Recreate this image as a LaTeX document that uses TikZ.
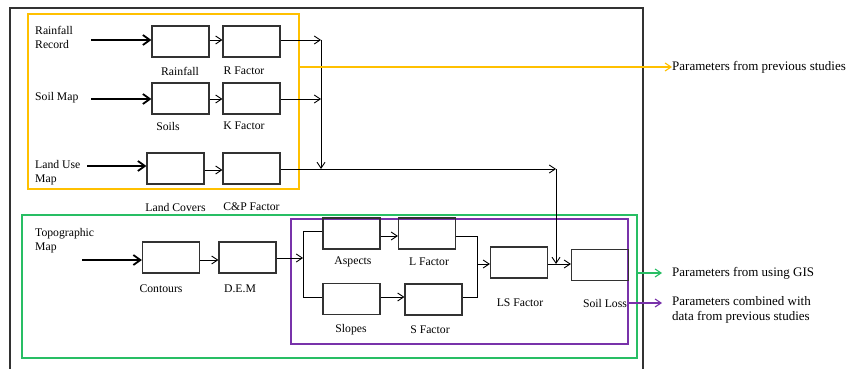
\documentclass[tikz,border=0pt]{standalone}
\usepackage{fontspec}
\setmainfont{Liberation Serif}
\usetikzlibrary{arrows.meta}
\definecolor{cgold}{RGB}{255,192,0}
\definecolor{cgreen}{RGB}{40,190,100}
\definecolor{cpurple}{RGB}{120,50,170}
\definecolor{cbox}{RGB}{50,50,50}
\tikzset{
  procbox/.style={draw=cbox, line width=1.2pt, minimum width=57pt, minimum height=31pt, inner sep=0pt},
  lbl/.style={inner sep=0pt, font=\fontsize{11.7}{14}\selectfont},
  srclbl/.style={inner sep=0pt, anchor=west, align=left, font=\fontsize{11.7}{14}\selectfont},
  sidelbl/.style={inner sep=0pt, anchor=west, align=left, font=\fontsize{13}{15}\selectfont},
  conn/.style={line width=0.9pt, -{Straight Barb[length=6pt,width=8pt]}},
  plain/.style={line width=0.9pt},
  inarrow/.style={line width=1.8pt, -{Straight Barb[length=7pt,width=10pt]}},
}
\begin{document}
\begin{tikzpicture}[x=1pt,y=-1pt]
\useasboundingbox (0,0) rectangle (847,369);
% frames
\draw[line width=1.4pt, cbox] (10,372) -- (10,8) -- (643,8) -- (643,372);
\draw[cgold, line width=1.3pt] (28,14) rectangle (299,189);
\draw[cgreen, line width=1.3pt] (22,215) rectangle (637,358);
\draw[cpurple, line width=1.3pt] (291,219) rectangle (628,344);
% boxes
\node[procbox] (rain) at (180.5,41.5) {};
\node[procbox] (rfac) at (251.5,41.5) {};
\node[procbox] (soils) at (180.5,98.5) {};
\node[procbox] (kfac) at (251.5,98.5) {};
\node[procbox] (land) at (175.5,168.5) {};
\node[procbox] (cp) at (251.5,168.5) {};
\node[procbox] (cont) at (171,257.5) {};
\node[procbox] (dem) at (247.5,257.5) {};
\node[procbox] (asp) at (351.5,233.5) {};
\node[procbox] (lfac) at (427,233.5) {};
\node[procbox] (slopes) at (351.5,299) {};
\node[procbox] (sfac) at (433.5,299.5) {};
\node[procbox] (ls) at (519,262.5) {};
\node[procbox] (sloss) at (600,265) {};
% box labels
\node[lbl] (lrain) at (180,71) {Rainfall};
\node[lbl] (lrfac) at (244,71) {R Factor};
\node[lbl] (lsoils) at (168,126) {Soils};
\node[lbl] (lkfac) at (244,126) {K Factor};
\node[lbl] (lland) at (175.5,207) {Land Covers};
\node[lbl] (lcp) at (251.5,207) {C\&P Factor};
\node[lbl] (lcont) at (161,289) {Contours};
\node[lbl] (ldem) at (240,289) {D.E.M};
\node[lbl] (lasp) at (353,262) {Aspects};
\node[lbl] (llfac) at (429,262) {L Factor};
\node[lbl] (lslopes) at (351,330) {Slopes};
\node[lbl] (lsfac) at (430,330) {S Factor};
\node[lbl] (lls) at (520,303) {LS Factor};
\node[lbl] (lsloss) at (605,303) {Soil Loss};
% source labels
\node[srclbl] (srain) at (35,37) {Rainfall\\Record};
\node[srclbl] (ssoil) at (35,98) {Soil Map};
\node[srclbl] (sland) at (35,173) {Land Use\\Map};
\node[srclbl] (stopo) at (35,241) {Topographic\\Map};
% side labels
\node[sidelbl] (tprev) at (672,67) {Parameters from previous studies};
\node[sidelbl] (tgis) at (672,273) {Parameters from using GIS};
\node[sidelbl] (tcomb) at (672,309.5) {Parameters combined with\\data from previous studies};
% input arrows
\coordinate (irain) at (91,40);
\coordinate (isoil) at (91,99);
\coordinate (iland) at (87,166);
\coordinate (itopo) at (82,260);
\draw[inarrow] (irain) -- (irain -| rain.west);
\draw[inarrow] (isoil) -- (isoil -| soils.west);
\draw[inarrow] (iland) -- (iland -| land.west);
\draw[inarrow] (itopo) -- (itopo -| cont.west);
% internal arrows
\draw[conn] (rain.east |- 0,40) -- (rfac.west |- 0,40);
\draw[conn] (soils.east |- 0,99) -- (kfac.west |- 0,99);
\draw[conn] (land.east |- 0,170) -- (cp.west |- 0,170);
\draw[conn] (cont.east |- 0,260) -- (dem.west |- 0,260);
% collector
\coordinate (j1) at (321,40);
\coordinate (j2) at (321,99);
\coordinate (j3) at (321,169);
\coordinate (j4) at (556,169);
\coordinate (j5) at (556,264);
\draw[conn] (rfac.east |- j1) -- (j1);
\draw[conn] (kfac.east |- j2) -- (j2);
\draw[conn] (j1) -- (j3);
\draw[conn] (cp.east |- j3) -- (j4);
\draw[conn] (j4) -- (j5);
% DEM branch
\coordinate (b0) at (303,258);
\coordinate (bt) at (303,231);
\coordinate (bb) at (303,297);
\draw[conn] (dem.east |- b0) -- (b0);
\draw[plain] (bt -| asp.west) -- (bt) -- (bb) -- (bb -| slopes.west);
\draw[conn] (asp.east |- 0,236) -- (lfac.west |- 0,236);
\draw[conn] (slopes.east |- 0,297) -- (sfac.west |- 0,297);
\coordinate (mt) at (477,236);
\coordinate (mb) at (477,297);
\coordinate (mm) at (477,264);
\draw[plain] (lfac.east |- mt) -- (mt) -- (mb) -- (sfac.east |- mb);
\draw[conn] (mm) -- (mm -| ls.west);
\draw[conn] (ls.east |- j5) -- (sloss.west |- j5);
% output arrows
\coordinate (og) at (299,67);
\draw[cgold, line width=1.1pt, -{Straight Barb[length=6pt,width=8pt]}] (og) -- (tprev.west);
\draw[cgreen, line width=1.1pt, -{Straight Barb[length=6pt,width=8pt]}] (637,273) -- (662,273);
\draw[cpurple, line width=1.1pt, -{Straight Barb[length=6pt,width=8pt]}] (628,303) -- (662,303);
\end{tikzpicture}
\end{document}
